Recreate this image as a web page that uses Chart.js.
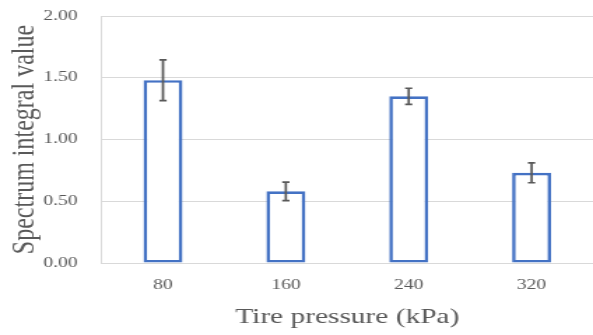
<!DOCTYPE html>
<html>
<head>
<meta charset="utf-8">
<script src="https://cdn.jsdelivr.net/npm/chart.js@4/dist/chart.umd.min.js"></script>
<style>
  html, body { margin: 0; padding: 0; background: #ffffff; overflow: hidden; }
  #wrap { width: 424px; height: 335px; transform: scaleX(1.3986); transform-origin: 0 0; }
</style>
</head>
<body>
<div id="wrap"><canvas id="c" width="424" height="335"></canvas></div>
<script>
const categories = ['80', '160', '240', '320'];
const spectrumValues = [1.48, 0.58, 1.35, 0.73];
const errorValues = [0.165, 0.075, 0.065, 0.08];
const yTicks = [0, 0.5, 1.0, 1.5, 2.0];

const textColor = '#595959';
const gridColor = '#d9d9d9';
const serif = 'Liberation Serif';

const errorBarPlugin = {
  id: 'errorBars',
  afterDatasetsDraw(chart) {
    const ctx = chart.ctx;
    const meta = chart.getDatasetMeta(0);
    const yScale = chart.scales.y;
    ctx.save();
    ctx.strokeStyle = '#595959';
    ctx.lineWidth = 1.7;
    meta.data.forEach((bar, i) => {
      const v = spectrumValues[i];
      const e = errorValues[i];
      const yTop = yScale.getPixelForValue(v + e);
      const yBot = yScale.getPixelForValue(v - e);
      const x = bar.x;
      const cap = 2.6;
      ctx.beginPath();
      ctx.moveTo(x, yTop); ctx.lineTo(x, yBot);
      ctx.moveTo(x - cap, yTop); ctx.lineTo(x + cap, yTop);
      ctx.moveTo(x - cap, yBot); ctx.lineTo(x + cap, yBot);
      ctx.stroke();
    });
    ctx.restore();
  }
};

new Chart(document.getElementById('c'), {
  type: 'bar',
  data: {
    labels: categories,
    datasets: [{
      data: spectrumValues,
      backgroundColor: '#ffffff',
      borderColor: '#4472C4',
      borderWidth: 2.6,
      borderSkipped: false,
      categoryPercentage: 1.0,
      barPercentage: 0.317
    }]
  },
  options: {
    responsive: false,
    devicePixelRatio: 1,
    animation: false,
    layout: { padding: { top: 16, left: 0, right: 0, bottom: 0 } },
    plugins: {
      legend: { display: false },
      tooltip: { enabled: false }
    },
    scales: {
      x: {
        grid: { display: false, drawTicks: false },
        border: { display: true, color: gridColor, width: 1 },
        ticks: { color: textColor, font: { family: serif, size: 14 }, padding: 14, maxRotation: 0 },
        title: {
          display: true,
          text: 'Tire pressure (kPa)',
          color: textColor,
          font: { family: serif, size: 21 },
          padding: { top: 0, bottom: 5 }
        },
        afterFit(scale) { scale.height = 72; scale.paddingLeft = 0; scale.paddingRight = 0; }
      },
      y: {
        min: 0,
        max: 2,
        afterBuildTicks(scale) { scale.ticks = yTicks.map(v => ({ value: v })); },
        grid: { color: gridColor, lineWidth: 1, drawTicks: false },
        border: { display: true, color: gridColor, width: 1 },
        ticks: {
          color: textColor,
          font: { family: serif, size: 14 },
          padding: 17,
          callback: v => Number(v).toFixed(2)
        },
        title: {
          display: true,
          text: 'Spectrum integral value',
          color: textColor,
          font: { family: serif, size: 24 },
          padding: { top: 3.5, bottom: 0 }
        },
        afterFit(scale) { scale.width = 72.6; scale.paddingTop = 0; scale.paddingBottom = 0; }
      }
    }
  },
  plugins: [errorBarPlugin]
});
</script>
</body>
</html>
